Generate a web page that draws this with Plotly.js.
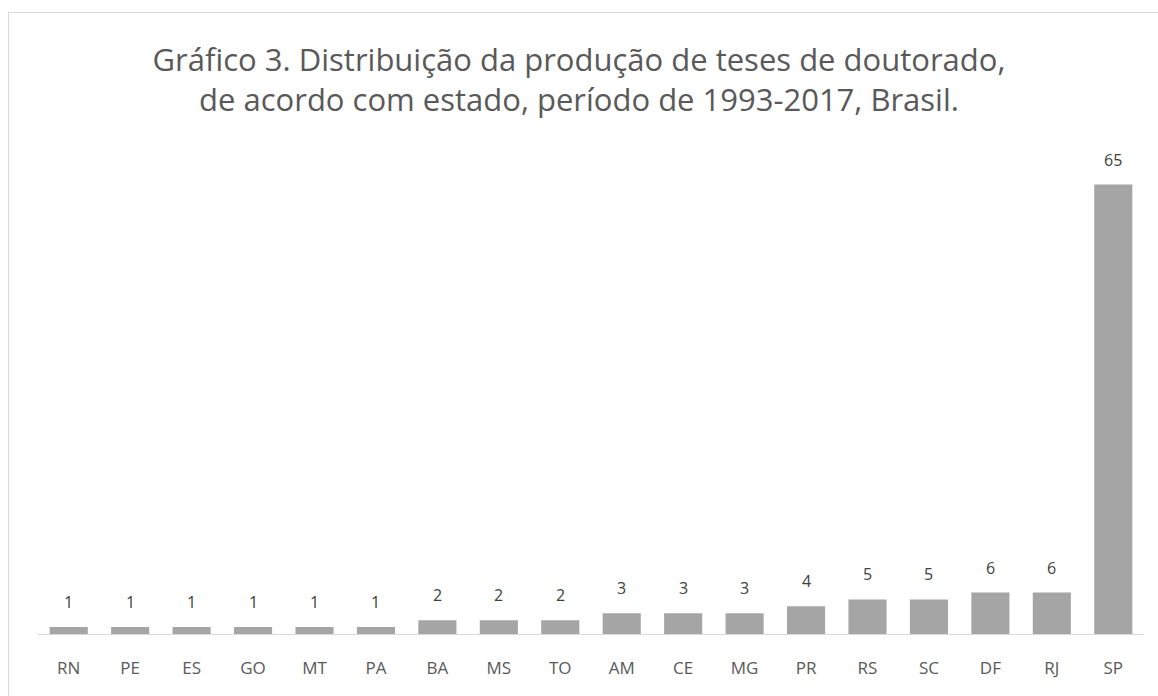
<!DOCTYPE html>
<html><head><meta charset="utf-8">
<script src="https://cdn.plot.ly/plotly-3.0.1.min.js"></script>
<style>
html,body{margin:0;padding:0;width:1158px;height:696px;overflow:hidden;background:#fff;}
#frame{position:absolute;left:8px;top:12px;width:1300px;height:800px;border:1px solid #d9d9d9;}
#chart{position:absolute;left:0;top:0;width:1158px;height:696px;}
</style></head>
<body>
<div id="frame"></div>
<div id="chart"></div>
<script>
const states = ["RN","PE","ES","GO","MT","PA","BA","MS","TO","AM","CE","MG","PR","RS","SC","DF","RJ","SP"];
const theses = [1,1,1,1,1,1,2,2,2,3,3,3,4,5,5,6,6,65];
const titleText = "Gráfico 3. Distribuição da produção de teses de doutorado,<br>de acordo com estado, período de 1993-2017, Brasil.";

const font = "Segoe UI, Open Sans, Noto Sans, sans-serif";
const trace = {
  type: "bar", x: states, y: theses,
  marker: {color: "#a5a5a5"},
  hoverinfo: "x+y"
};
const annotations = states.map((s,i)=>({
  x: s, y: theses[i], xref:"x", yref:"y", text: String(theses[i]),
  showarrow:false, yanchor:"bottom", yshift:12,
  font:{family:font, size:16, color:"#404040"}
}));
const layout = {
  width:1158, height:696,
  paper_bgcolor:"rgba(0,0,0,0)", plot_bgcolor:"rgba(0,0,0,0)",
  margin:{l:38, r:14, t:150, b:62},
  bargap:0.38,
  showlegend:false,
  title:{text:titleText, x:0.5, xanchor:"center", y:0.898, yanchor:"middle",
    font:{family:font, size:31, color:"#595959"}},
  xaxis:{type:"category", showline:true, linecolor:"#d9d9d9", linewidth:1,
    ticks:"", ticklabelstandoff:19, showgrid:false, zeroline:false,
    tickfont:{family:font, size:17, color:"#595959"}},
  yaxis:{range:[0,70], visible:false, showgrid:false, zeroline:false},
  annotations: annotations
};
Plotly.newPlot("chart",[trace],layout,{displayModeBar:false, staticPlot:true});
</script>
</body></html>
